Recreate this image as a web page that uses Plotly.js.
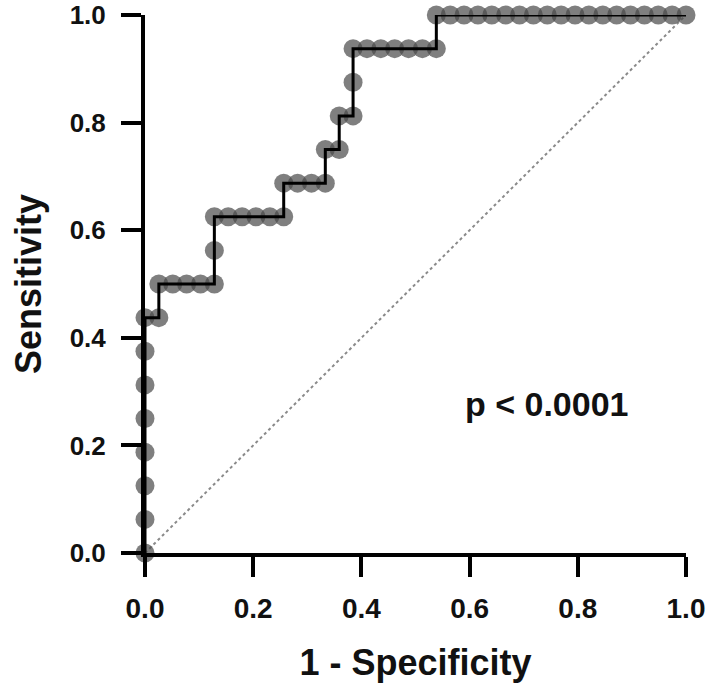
<!DOCTYPE html>
<html>
<head>
<meta charset="utf-8">
<script src="https://cdn.plot.ly/plotly-3.0.1.min.js"></script>
<style>html,body{margin:0;padding:0;background:#fff;}#chart{width:708px;height:685px;}</style>
</head>
<body>
<div id="chart"></div>
<script>
// ROC curve points: 1 - Specificity (x) and Sensitivity (y)
const fpr = [0, 0, 0, 0, 0, 0, 0, 0,
  0.0256, 0.0256, 0.0513, 0.0769, 0.1026, 0.1282, 0.1282, 0.1282,
  0.1538, 0.1795, 0.2051, 0.2308, 0.2564, 0.2564, 0.2821, 0.3077,
  0.3333, 0.3333, 0.3590, 0.3590, 0.3846, 0.3846, 0.3846,
  0.4103, 0.4359, 0.4615, 0.4872, 0.5128, 0.5385, 0.5385,
  0.5641, 0.5897, 0.6154, 0.6410, 0.6667, 0.6923, 0.7179, 0.7436,
  0.7692, 0.7949, 0.8205, 0.8462, 0.8718, 0.8974, 0.9231, 0.9487,
  0.9744, 1.0];
const sens = [0, 0.0625, 0.125, 0.1875, 0.25, 0.3125, 0.375, 0.4375,
  0.4375, 0.5, 0.5, 0.5, 0.5, 0.5, 0.5625, 0.625,
  0.625, 0.625, 0.625, 0.625, 0.625, 0.6875, 0.6875, 0.6875,
  0.6875, 0.75, 0.75, 0.8125, 0.8125, 0.875, 0.9375,
  0.9375, 0.9375, 0.9375, 0.9375, 0.9375, 0.9375, 1.0,
  1.0, 1.0, 1.0, 1.0, 1.0, 1.0, 1.0, 1.0,
  1.0, 1.0, 1.0, 1.0, 1.0, 1.0, 1.0, 1.0,
  1.0, 1.0];
const refX = [0, 1];
const refY = [0, 1];
const tickVals = [0, 0.2, 0.4, 0.6, 0.8, 1.0];
const tickText = ['0.0', '0.2', '0.4', '0.6', '0.8', '1.0'];
const xTitle = '1 - Specificity';
const yTitle = 'Sensitivity';
const pText = 'p < 0.0001';

const FONT = 'Liberation Sans, Arial, Helvetica, sans-serif';

const traces = [
  {x: refX, y: refY, mode: 'lines', type: 'scatter', cliponaxis: false,
   line: {color: '#8a8a8a', width: 2, dash: 'dot'}, hoverinfo: 'skip'},
  {x: fpr, y: sens, mode: 'markers', type: 'scatter', cliponaxis: false,
   marker: {size: 19, color: 'rgba(73,73,73,0.7)', line: {width: 0}}},
  {x: fpr, y: sens, mode: 'lines', type: 'scatter', cliponaxis: false,
   line: {color: '#000', width: 3, shape: 'linear'}}
];

const axisCommon = {
  range: [0, 1], tickvals: tickVals, ticktext: tickText,
  showgrid: false, zeroline: false, showline: true,
  linecolor: '#000', linewidth: 4,
  ticks: 'outside', ticklen: 20, tickwidth: 4, tickcolor: '#000',
  fixedrange: true
};

const layout = {
  width: 708, height: 685,
  margin: {l: 145, r: 22, t: 15, b: 132},
  paper_bgcolor: '#fff', plot_bgcolor: '#fff',
  showlegend: false,
  xaxis: Object.assign({}, axisCommon, {
    tickfont: {family: FONT, size: 28, color: '#111', weight: 'bold'},
    title: {text: xTitle, font: {family: FONT, size: 36, color: '#111', weight: 'bold'}, standoff: 28},
    ticklabelstandoff: 7
  }),
  yaxis: Object.assign({}, axisCommon, {
    tickfont: {family: FONT, size: 26, color: '#111', weight: 'bold'},
    title: {text: yTitle, font: {family: FONT, size: 36, color: '#111', weight: 'bold'}, standoff: 18},
    ticklabelstandoff: 10
  }),
  annotations: [{
    x: 0.743, y: 0.277, xref: 'x', yref: 'y', text: pText, showarrow: false,
    xanchor: 'center', yanchor: 'middle',
    font: {family: FONT, size: 34, color: '#111', weight: 'bold'}
  }]
};

Plotly.newPlot('chart', traces, layout, {displayModeBar: false, staticPlot: true});
</script>
</body>
</html>
